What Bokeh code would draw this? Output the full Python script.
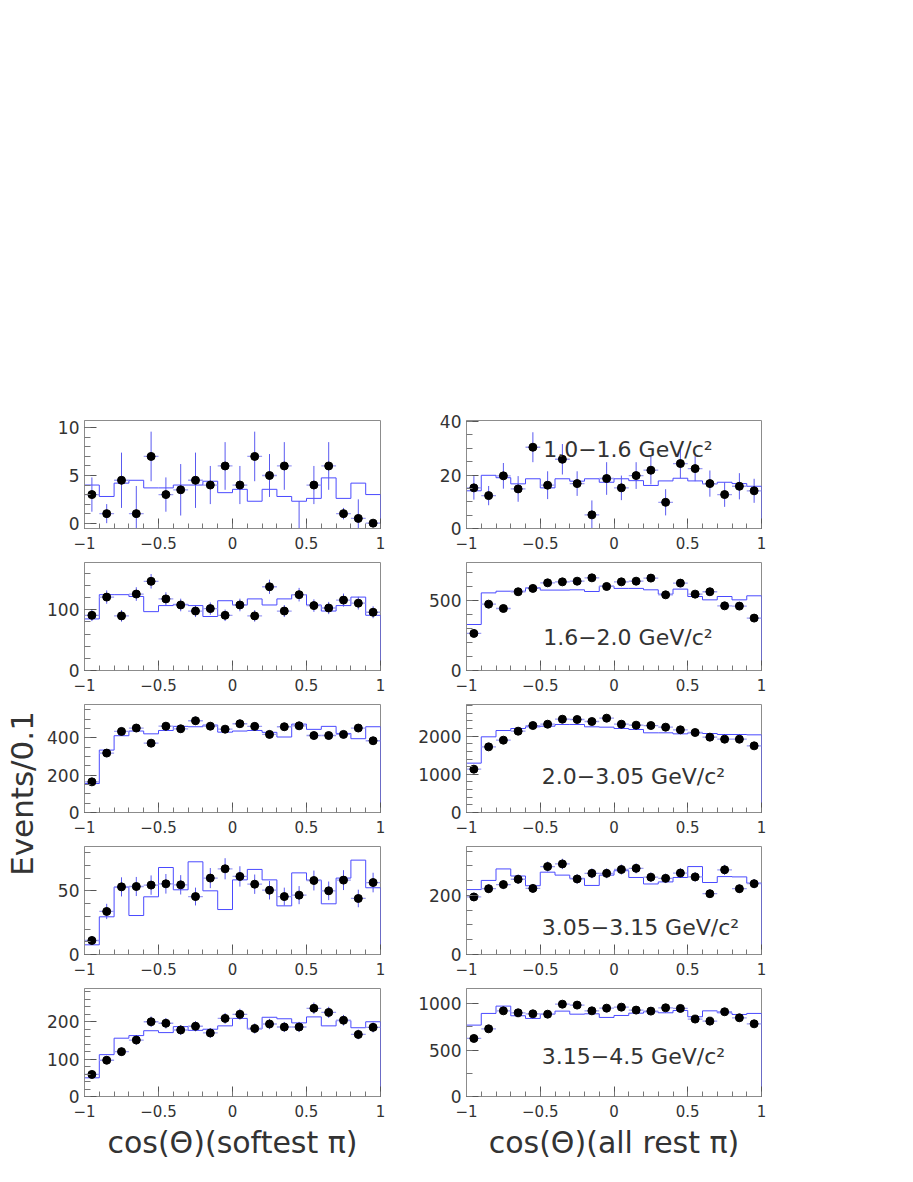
import numpy as np
from bokeh.plotting import figure
from bokeh.layouts import row, column, Spacer
from bokeh.models import FixedTicker, CustomJSTickFormatter, Label
from bokeh.embed import file_html
from bokeh.resources import INLINE
from bokeh.core.properties import value

# ---------------- data ----------------
bin_centers = [-0.95, -0.85, -0.75, -0.65, -0.55, -0.45, -0.35, -0.25, -0.15, -0.05,
               0.05, 0.15, 0.25, 0.35, 0.45, 0.55, 0.65, 0.75, 0.85, 0.95]
bin_width = 0.1

# left column: cos(theta) of softest pi
L1_data = [3.0, 1.0, 4.5, 1.0, 7.0, 3.0, 3.5, 4.5, 4.0, 6.0, 4.0, 7.0, 5.0, 6.0, -1.0, 4.0, 6.0, 1.0, 0.5, 0.0]
L1_err = [1.8, 1.0, 2.9, 2.9, 2.6, 1.8, 2.7, 2.9, 2.0, 2.5, 2.0, 2.6, 2.25, 2.5, 3.3, 2.0, 2.5, 0.6, 2.0, 0.0]
L1_mc = [4.0, 2.8, 4.2, 4.5, 3.7, 3.7, 4.0, 4.0, 4.4, 3.2, 3.55, 2.3, 3.55, 2.8, 2.3, 2.6, 4.75, 2.6, 4.2, 3.0]

L2_data = [91, 121, 90, 126, 147, 118, 108, 98, 102, 91, 108, 90, 138, 98, 125, 107, 103, 116, 111, 96]
L2_err = [9.6, 11.0, 9.5, 11.2, 12.0, 10.9, 10.4, 9.9, 10.1, 9.5, 10.4, 9.5, 11.7, 9.9, 11.2, 10.3, 10.1, 10.8, 10.5, 9.8]
L2_mc = [85, 125, 125, 122, 97, 107, 109, 107, 89, 115, 108, 118, 108, 118, 125, 108, 98, 107, 121, 91]

L3_data = [164, 318, 434, 452, 371, 462, 448, 491, 462, 446, 475, 461, 418, 459, 464, 412, 412, 418, 452, 384]
L3_err = [13, 18, 21, 21, 19, 21, 21, 22, 21, 21, 22, 21, 20, 21, 22, 20, 20, 20, 21, 20]
L3_mc = [155, 334, 411, 436, 421, 439, 461, 459, 468, 430, 436, 439, 429, 404, 473, 445, 461, 423, 395, 459]

L4_data = [11.0, 33.8, 53.1, 53.4, 54.5, 55.5, 54.7, 45.5, 60.0, 67.3, 61.3, 55.2, 50.5, 45.5, 46.6, 58.1, 50.0, 58.4, 44.0, 56.5]
L4_err = [3.5, 6.0, 7.5, 7.5, 7.6, 7.7, 7.6, 7.0, 7.9, 8.3, 8.0, 7.6, 7.3, 7.0, 7.1, 7.8, 7.3, 7.8, 6.9, 7.7]
L4_mc = [7.6, 29.6, 52.9, 30.6, 45.3, 68.3, 50.8, 72.8, 50.0, 35.3, 58.6, 66.8, 58.6, 38.2, 64.1, 58.4, 39.8, 60.0, 74.1, 52.4]

L5_data = [59, 97, 120, 151, 200, 196, 178, 188, 170, 209, 220, 182, 194, 186, 186, 236, 225, 204, 166, 185]
L5_err = [7.7, 9.8, 11, 12.3, 14.1, 14, 13.3, 13.7, 13, 14.5, 14.8, 13.5, 13.9, 13.6, 13.6, 15.4, 15, 14.3, 12.9, 13.6]
L5_mc = [50, 112, 156, 163, 176, 171, 187, 177, 180, 189, 209, 181, 212, 208, 197, 213, 189, 203, 184, 200]

# right column: cos(theta) of all rest pi
R1_data = [15.2, 12.3, 19.7, 14.8, 30.4, 16.2, 25.9, 16.8, 5.1, 18.7, 15.2, 19.8, 21.8, 9.8, 24.3, 22.4, 16.8, 12.7, 15.8, 14.1]
R1_err = [4.4, 3.6, 4.8, 4.8, 5.6, 5.2, 5.7, 4.6, 5.4, 6.1, 4.6, 5.0, 5.3, 4.9, 5.5, 4.7, 4.9, 4.6, 4.9, 4.5]
R1_mc = [14.1, 19.9, 19.0, 16.7, 18.6, 15.2, 18.6, 17.7, 18.6, 17.3, 18.6, 17.9, 16.1, 17.8, 18.8, 17.8, 16.7, 17.3, 16.8, 15.8]

R2_data = [266, 476, 445, 565, 589, 629, 636, 641, 665, 603, 636, 641, 663, 543, 627, 548, 565, 464, 462, 376]
R2_err = [16, 22, 21, 24, 24, 25, 25, 25, 26, 25, 25, 25, 26, 23, 25, 23, 24, 22, 22, 19]
R2_mc = [330, 557, 569, 569, 593, 577, 577, 579, 567, 605, 589, 589, 579, 548, 584, 531, 507, 531, 507, 536]

R3_data = [1135, 1720, 1895, 2131, 2279, 2314, 2445, 2437, 2384, 2472, 2314, 2288, 2279, 2236, 2166, 2096, 1974, 1921, 1921, 1747]
R3_err = [34, 41, 44, 46, 48, 48, 49, 49, 49, 50, 48, 48, 48, 47, 47, 46, 44, 44, 44, 42]
R3_mc = [1293, 1983, 2148, 2201, 2245, 2262, 2306, 2306, 2245, 2236, 2201, 2175, 2088, 2088, 2061, 2088, 2070, 2044, 2044, 2035]

R4_data = [195, 223, 237, 255, 224, 298, 307, 256, 275, 275, 288, 292, 262, 258, 276, 263, 206, 287, 223, 240]
R4_err = [14, 15, 15.5, 16, 15, 17, 17.5, 16, 16.5, 16.5, 17, 17, 16, 16, 16.5, 16, 14.5, 17, 15, 15.5]
R4_mc = [220, 251, 290, 266, 233, 279, 269, 258, 234, 269, 284, 261, 239, 246, 261, 298, 244, 264, 263, 242]

R5_data = [626, 730, 924, 903, 892, 888, 996, 986, 924, 953, 964, 932, 921, 957, 950, 835, 813, 914, 849, 784]
R5_err = [25, 27, 30, 30, 30, 30, 31.5, 31.4, 30.4, 30.9, 31, 30.5, 30.3, 30.9, 30.8, 28.9, 28.5, 30.2, 29.1, 28]
R5_mc = [770, 896, 975, 871, 842, 888, 921, 888, 892, 853, 874, 899, 914, 903, 928, 860, 924, 903, 885, 896]

mass_labels = ["1.0\u22121.6 GeV/c\u00b2", "1.6\u22122.0 GeV/c\u00b2", "2.0\u22123.05 GeV/c\u00b2",
               "3.05\u22123.15 GeV/c\u00b2", "3.15\u22124.5 GeV/c\u00b2"]
x_titles = ["cos(\u0398)(softest \u03c0)", "cos(\u0398)(all rest \u03c0)"]
y_title = "Events/0.1"

# ---------------- layout / style ----------------
FONT = "DejaVu Sans"
TXT = "#333333"
FRAME = "#8c8c8c"
HIST_C = "#4a4aff"
VERR_C = "#5a5af0"
HERR_C = "#9d9df4"

FRAME_W, FRAME_H = 296, 108
TOP_SPACE = 408
LABEL_W = 44

left_cfg = [
    dict(d=L1_data, e=L1_err, m=L1_mc, yr=(-0.56, 10.77), major=[0, 5, 10], mstep=1),
    dict(d=L2_data, e=L2_err, m=L2_mc, yr=(0, 178), major=[0, 100], mstep=20),
    dict(d=L3_data, e=L3_err, m=L3_mc, yr=(0, 578), major=[0, 200, 400], mstep=50),
    dict(d=L4_data, e=L4_err, m=L4_mc, yr=(0, 84.8), major=[0, 50], mstep=10),
    dict(d=L5_data, e=L5_err, m=L5_mc, yr=(0, 289), major=[0, 100, 200], mstep=20),
]
right_cfg = [
    dict(d=R1_data, e=R1_err, m=R1_mc, yr=(0, 40.4), major=[0, 20, 40], mstep=5, lab=(-0.48, 29.4)),
    dict(d=R2_data, e=R2_err, m=R2_mc, yr=(0, 775), major=[0, 500], mstep=100, lab=(-0.48, 237)),
    dict(d=R3_data, e=R3_err, m=R3_mc, yr=(0, 2830), major=[0, 1000, 2000], mstep=200, lab=(-0.49, 952)),
    dict(d=R4_data, e=R4_err, m=R4_mc, yr=(0, 366), major=[0, 200], mstep=50, lab=(-0.49, 92.7)),
    dict(d=R5_data, e=R5_err, m=R5_mc, yr=(0, 1165), major=[0, 500, 1000], mstep=250, lab=(-0.49, 428)),
]

xfmt_code = "return tick < 0 ? '\u2212' + Math.abs(tick) : String(tick);"


def make_panel(cfg, idx, side):
    last = idx == 4
    bl, br = (40, 35) if side == 0 else (50, 20)
    bt = 12 if idx == 0 else 4
    bb = 68 if last else 30
    p = figure(width=bl + FRAME_W + br, height=bt + FRAME_H + bb,
               x_range=(-1, 1), y_range=cfg["yr"],
               min_border_left=bl, min_border_right=br,
               min_border_top=bt, min_border_bottom=bb,
               toolbar_location=None, output_backend="svg")
    p.grid.visible = False
    p.outline_line_color = FRAME
    p.outline_line_width = 1
    p.background_fill_color = "white"
    p.border_fill_color = "white"

    # histogram (MC) as step outline with edges down to zero
    centers = np.array(bin_centers)
    lo = centers - bin_width / 2
    hi = centers + bin_width / 2
    mc = np.array(cfg["m"], dtype=float)
    xs = np.concatenate([[lo[0]], np.column_stack([lo, hi]).ravel(), [hi[-1]]])
    ys = np.concatenate([[0.0], np.repeat(mc, 2), [0.0]])
    p.line(xs, ys, line_color=HIST_C, line_width=1)

    d = np.array(cfg["d"], dtype=float)
    e = np.array(cfg["e"], dtype=float)
    p.segment(x0=lo, x1=hi, y0=d, y1=d, line_color=HERR_C, line_width=1.3)
    p.segment(x0=centers, x1=centers, y0=d - e, y1=d + e, line_color=VERR_C, line_width=1)
    p.scatter(centers, d, size=8, marker="circle", fill_color="black", line_color="black")

    # axes
    xa = p.xaxis[0]
    xa.ticker = FixedTicker(ticks=[-1, -0.5, 0, 0.5, 1],
                            minor_ticks=[round(float(v), 2) for v in np.arange(-1, 1.0001, 0.1)])
    xa.formatter = CustomJSTickFormatter(code=xfmt_code)
    xa.major_tick_in, xa.major_tick_out = 10, 0
    xa.minor_tick_in, xa.minor_tick_out = 5, 0
    xa.major_label_standoff = 8
    xa.major_label_text_font = FONT
    xa.major_label_text_font_size = "15px"
    xa.major_label_text_color = TXT

    ya = p.yaxis[0]
    y0, y1 = cfg["yr"]
    mt = [float(v) for v in np.arange(0, y1 + 1e-9, cfg["mstep"])]
    ya.ticker = FixedTicker(ticks=cfg["major"], minor_ticks=mt)
    ya.major_tick_in, ya.major_tick_out = 12, 0
    ya.minor_tick_in, ya.minor_tick_out = 6, 0
    ya.major_label_standoff = 5
    ya.major_label_text_font = FONT
    ya.major_label_text_font_size = "17px"
    ya.major_label_text_color = TXT

    for ax in (xa, ya):
        ax.axis_line_color = FRAME
        ax.major_tick_line_color = "#555555"
        ax.minor_tick_line_color = "#777777"

    if last:
        xa.axis_label = x_titles[side]
        xa.axis_label_text_font = FONT
        xa.axis_label_text_font_size = "30px"
        xa.axis_label_text_font_style = "normal"
        xa.axis_label_text_color = TXT
        xa.axis_label_standoff = 5

    if side == 1:
        lx, ly = cfg["lab"]
        p.add_layout(Label(x=lx, y=ly, text=mass_labels[idx], text_font=FONT,
                           text_font_size="22px", text_color=TXT,
                           text_align="left", text_baseline="alphabetic"))
    return p


left_figs = [make_panel(c, i, 0) for i, c in enumerate(left_cfg)]
right_figs = [make_panel(c, i, 1) for i, c in enumerate(right_cfg)]

total_h = TOP_SPACE + (12 + FRAME_H + 30) + 3 * (4 + FRAME_H + 30) + (4 + FRAME_H + 68)

lab_fig = figure(width=LABEL_W, height=total_h, x_range=(0, LABEL_W), y_range=(0, total_h),
                 x_axis_type=None, y_axis_type=None, min_border=0,
                 toolbar_location=None, output_backend="svg")
lab_fig.grid.visible = False
lab_fig.outline_line_color = None
lab_fig.text(x=[21], y=[total_h - 793], text=[y_title], angle=np.pi / 2,
             text_font=value(FONT), text_font_size="31px", text_color=TXT,
             text_align="center", text_baseline="middle")

panels = row(column(*left_figs), column(*right_figs))
layout = row(lab_fig, column(Spacer(width=737, height=TOP_SPACE), panels))

with open("out.html", "w", encoding="utf-8") as f:
    f.write(file_html(layout, INLINE))
